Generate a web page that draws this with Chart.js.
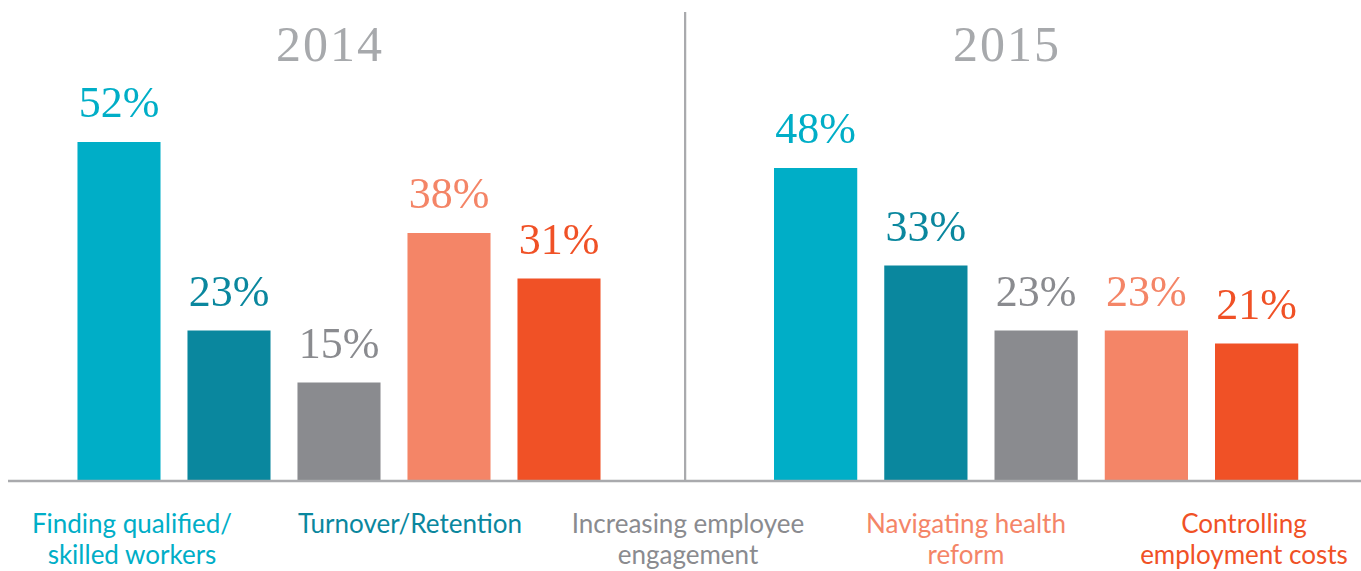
<!DOCTYPE html>
<html>
<head>
<meta charset="utf-8">
<script src="https://cdn.jsdelivr.net/npm/chart.js@4"></script>
<style>
  html, body { margin: 0; padding: 0; background: #fff; }
  #wrap { position: relative; width: 1361px; height: 571px; overflow: hidden; }
  .pane { position: absolute; top: 0; height: 500px; }
  #paneLeft { left: 0; width: 684px; }
  #paneRight { left: 684px; width: 677px; }
  .year {
    position: absolute; top: 15px; width: 200px; text-align: center;
    font-family: "Liberation Serif", serif; font-size: 50px; letter-spacing: 2px;
    color: #a7a9ac;
  }
  #legend {
    position: absolute; top: 508px; left: -7px; width: 1390px;
    display: flex;
  }
  #legend div {
    flex: 1; text-align: center;
    font-family: Lato, sans-serif; font-size: 26px; line-height: 31px;
  }
</style>
</head>
<body>
<div id="wrap">
  <div class="pane" id="paneLeft"><canvas id="chart2014"></canvas></div>
  <div class="pane" id="paneRight"><canvas id="chart2015"></canvas></div>
  <div class="year" id="title2014" style="left:230px"></div>
  <div class="year" id="title2015" style="left:907px"></div>
  <div id="legend"></div>
</div>
<script>
// data
const years = ['2014', '2015'];
const categories = [
    'Finding qualified/ skilled workers',
    'Turnover/Retention',
    'Increasing employee engagement',
    'Navigating health reform',
    'Controlling employment costs'
];
const legendLines = [
    ['Finding qualified/', 'skilled workers'],
    ['Turnover/Retention'],
    ['Increasing employee', 'engagement'],
    ['Navigating health', 'reform'],
    ['Controlling', 'employment costs']
];
const values2014 = [52, 23, 15, 38, 31];
const values2015 = [48, 33, 23, 23, 21];
const barColors = ['#00aec7', '#0a879e', '#8a8b8f', '#f48567', '#f05126'];
const lineGray = '#a9aaad';

// titles + legend as real text
document.getElementById('title2014').textContent = years[0];
document.getElementById('title2015').textContent = years[1];
const legendBox = document.getElementById('legend');
legendLines.forEach((lines, i) => {
    const div = document.createElement('div');
    div.style.color = barColors[i];
    div.innerHTML = lines.join('<br>');
    legendBox.appendChild(div);
});

// value labels over bars, baseline, divider
const barLabels = {
    id: 'barLabels',
    afterDatasetsDraw(chart, args, opts) {
        const ctx = chart.ctx;
        const y0 = chart.scales.y.getPixelForValue(0);
        ctx.save();
        // baseline
        ctx.strokeStyle = lineGray;
        ctx.lineWidth = 2.5;
        ctx.beginPath();
        ctx.moveTo(opts.lineStart, y0 + 1);
        ctx.lineTo(chart.width, y0 + 1);
        ctx.stroke();
        // divider between years
        if (opts.divider) {
            ctx.lineWidth = 2.5;
            ctx.beginPath();
            ctx.moveTo(1, chart.chartArea.top);
            ctx.lineTo(1, y0 + 1);
            ctx.stroke();
        }
        // percentages
        ctx.font = '44px "Liberation Serif", serif';
        ctx.textAlign = 'center';
        ctx.textBaseline = 'alphabetic';
        const ds = chart.data.datasets[0];
        chart.getDatasetMeta(0).data.forEach((bar, i) => {
            ctx.fillStyle = barColors[i];
            ctx.fillText(ds.data[i] + '%', bar.x, bar.y - 25);
        });
        ctx.restore();
    }
};

function makeChart(canvasId, values, padding, pluginOpts) {
    const ctx = document.getElementById(canvasId).getContext('2d');
    return new Chart(ctx, {
        type: 'bar',
        data: {
            labels: categories,
            datasets: [{
                data: values,
                backgroundColor: barColors,
                borderWidth: 0,
                categoryPercentage: 1,
                barPercentage: 0.755
            }]
        },
        options: {
            responsive: true,
            maintainAspectRatio: false,
            animation: false,
            layout: { padding: padding },
            scales: {
                x: { display: false },
                y: { display: false, min: 0, max: 72 }
            },
            plugins: {
                legend: { display: false },
                tooltip: { enabled: false },
                barLabels: pluginOpts
            }
        },
        plugins: [barLabels]
    });
}

makeChart('chart2014', values2014, { left: 64, right: 70, top: 12, bottom: 20 }, { lineStart: 8, divider: false });
makeChart('chart2015', values2015, { left: 76.5, right: 49.25, top: 12, bottom: 20 }, { lineStart: 0, divider: true });
</script>
</body>
</html>
